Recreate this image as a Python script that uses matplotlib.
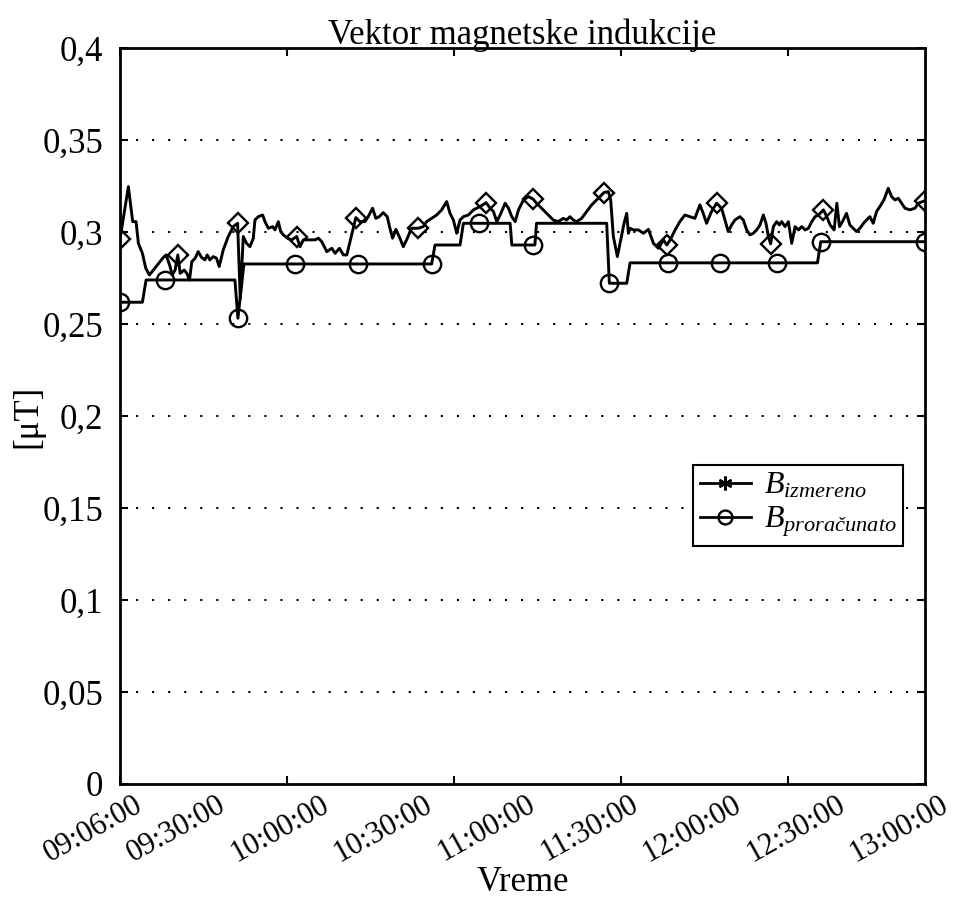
import numpy as np
import matplotlib
matplotlib.use("Agg")
import matplotlib.pyplot as plt
from matplotlib.lines import Line2D
from matplotlib import transforms

plt.rcParams['font.family'] = ['Liberation Serif', 'DejaVu Serif']
plt.rcParams['mathtext.fontset'] = 'custom'
plt.rcParams['mathtext.rm'] = 'Liberation Serif'
plt.rcParams['mathtext.it'] = 'Liberation Serif:italic'

# measured B (sample index, uT)
meas_x = [0, 2.5, 3.8, 4.8, 5.5, 6.7, 7.7, 8.8, 10.0, 11.2, 13.0, 13.8, 15.0, 15.6, 16.5,
          17.3, 18.0, 19.2, 20.0, 20.8, 21.5, 22.5, 23.4, 24.4, 25.4, 26.1, 26.9, 27.9,
          28.9, 29.7, 30.9, 32.4, 33.9, 35.2, 36.0, 36.9, 37.9, 38.9, 39.9, 40.4, 41.4,
          42.7, 43.4, 44.4, 45.7, 46.4, 47.4, 48.1, 48.9, 50.1, 51.4, 52.9, 53.9, 54.9,
          56.9, 58.4, 59.4, 60.4, 61.9, 63.4, 64.4, 65.7, 66.9, 67.9, 69.1, 70.6, 71.8,
          73.3, 74.3, 75.6, 76.6, 77.6, 78.8, 80.0, 80.8, 81.6, 82.6, 83.8, 84.8, 85.8,
          87.3, 89.3, 90.8, 91.8, 93.3, 94.8, 96.3, 97.8, 98.8, 99.8, 100.8, 101.8,
          102.8, 104.3, 105.8, 107.8, 109.6, 110.8, 111.8, 112.8, 113.8, 115.3, 116.3,
          117.3, 118.3, 119.3, 120.8, 122.3, 123.7, 124.7, 125.7, 127.2, 128.7, 129.7,
          131.2, 132.7, 133.7, 134.7, 135.7, 136.7, 138.2, 139.7, 141.2, 142.7, 143.7,
          144.9, 146.2, 146.9, 147.7, 148.9, 149.9, 150.9, 151.7, 152.2, 152.7, 153.7,
          155.2, 156.7, 158.2, 159.7, 161.2, 162.7, 163.7, 164.7, 166.2, 167.6, 169.1,
          170.6, 172.1, 173.6, 174.6, 175.6, 177.1, 178.6, 180.1, 181.1, 182.1, 183.1,
          184.1, 185.6, 186.6, 187.6, 188.6, 189.6, 190.6, 191.6, 192.6, 193.4, 194.1,
          194.8, 195.6, 196.6, 197.4, 198.1, 199.1, 200.1, 201.1, 202.1, 203.1, 204.1,
          205.1, 206.1, 207.1, 208.1, 209.1, 210.6, 211.6, 212.6, 213.8, 214.6, 215.4,
          216.3, 217.5, 218.5, 219.5, 220.5, 221.5, 223.0, 224.5, 225.5, 226.5, 227.5,
          228.7, 230.0, 231.0, 232.0, 233.0, 234.0, 235.0, 236.5, 238.0, 239.0, 241.0]
meas_y = [0.2962, 0.3246, 0.3056, 0.3056, 0.2938, 0.2884, 0.2803, 0.2766, 0.2793, 0.2821,
          0.2862, 0.2875, 0.2812, 0.2766, 0.2793, 0.2875, 0.2775, 0.2793, 0.2775, 0.2739,
          0.2839, 0.2857, 0.2893, 0.2862, 0.2848, 0.2875, 0.2848, 0.2866, 0.2857, 0.2812,
          0.2902, 0.2975, 0.3029, 0.3047, 0.2640, 0.2975, 0.2938, 0.2920, 0.2966, 0.3065,
          0.3083, 0.3092, 0.3056, 0.3020, 0.3029, 0.3011, 0.3056, 0.3002, 0.2984, 0.2966,
          0.2957, 0.2975, 0.2920, 0.2957, 0.2957, 0.2957, 0.2966, 0.2947, 0.2893, 0.2911,
          0.2884, 0.2911, 0.2875, 0.2875, 0.2966, 0.3078, 0.3056, 0.3056, 0.3083, 0.3129,
          0.3074, 0.3083, 0.3105, 0.3083, 0.3020, 0.2966, 0.3014, 0.2966, 0.2920, 0.2957,
          0.3020, 0.3020, 0.3029, 0.3056, 0.3074, 0.3092, 0.3120, 0.3165, 0.3101, 0.3065,
          0.2993, 0.3065, 0.3083, 0.3092, 0.3120, 0.3138, 0.3159, 0.3129, 0.3111, 0.3056,
          0.3092, 0.3156, 0.3129, 0.3083, 0.3056, 0.3120, 0.3174, 0.3192, 0.3178, 0.3156,
          0.3138, 0.3111, 0.3083, 0.3065, 0.3056, 0.3074, 0.3065, 0.3083, 0.3065, 0.3056,
          0.3074, 0.3111, 0.3147, 0.3174, 0.3192, 0.3214, 0.3219, 0.3174, 0.2975, 0.2866,
          0.2957, 0.3047, 0.3101, 0.2993, 0.3020, 0.3011, 0.3011, 0.2993, 0.3014, 0.2938,
          0.2911, 0.2957, 0.2929, 0.2957, 0.3011, 0.3056, 0.3092, 0.3083, 0.3074, 0.3147,
          0.3101, 0.3047, 0.3111, 0.3156, 0.3129, 0.3065, 0.3002, 0.3038, 0.3065, 0.3083,
          0.3065, 0.3011, 0.2984, 0.2993, 0.3011, 0.3038, 0.3092, 0.3047, 0.2975, 0.2935,
          0.3029, 0.3056, 0.3038, 0.3056, 0.3029, 0.3056, 0.2938, 0.3029, 0.3011, 0.3029,
          0.3011, 0.3020, 0.3056, 0.3083, 0.3092, 0.3120, 0.3083, 0.3038, 0.3011, 0.3156,
          0.3029, 0.3056, 0.3101, 0.3038, 0.3020, 0.3002, 0.3020, 0.3056, 0.3083, 0.3047,
          0.3111, 0.3138, 0.3174, 0.3237, 0.3192, 0.3174, 0.3183, 0.3156, 0.3129, 0.3120,
          0.3129, 0.3156, 0.3170]
# samples that carry a diamond marker
meas_marks = [0, 17.3, 35.2, 52.9, 70.6, 89.3, 109.6, 123.7, 144.9, 163.7, 178.6,
              194.8, 210.6, 241.0]

# calculated B (step curve)
calc_x = [0, 6.7, 7.8, 34.4, 35.3, 37.1, 93.3, 94.3, 101.8, 102.8, 116.8, 117.3, 124.2,
          124.7, 145.7, 146.5, 151.7, 152.7, 208.8, 209.8, 241.0]
calc_y = [0.2618, 0.2618, 0.2739, 0.2739, 0.2531, 0.2826, 0.2826, 0.2929, 0.2929, 0.3047,
          0.3047, 0.2929, 0.2929, 0.3047, 0.3047, 0.2721, 0.2721, 0.2832, 0.2832, 0.2947,
          0.2947]
calc_mark_x = [0, 13.5, 35.3, 52.4, 71.3, 93.3, 107.5, 123.6, 146.5, 164.1, 179.6, 196.7,
               209.8, 241.0]
calc_mark_y = [0.2618, 0.2739, 0.2531, 0.2826, 0.2826, 0.2826, 0.3047, 0.2929, 0.2721,
               0.2832, 0.2832, 0.2832, 0.2947, 0.2947]

n_last = 241
time_labels = ['09:06:00', '09:30:00', '10:00:00', '10:30:00', '11:00:00',
               '11:30:00', '12:00:00', '12:30:00', '13:00:00']
time_minutes = [0, 24, 54, 84, 114, 144, 174, 204, 234]
yticks = [0, 0.05, 0.1, 0.15, 0.2, 0.25, 0.3, 0.35, 0.4]
ytick_labels = ['0', '0,05', '0,1', '0,15', '0,2', '0,25', '0,3', '0,35', '0,4']

fig = plt.figure(figsize=(9.54, 9.01), dpi=100)
ax = fig.add_axes([0.1258, 0.1299, 0.8438, 0.8169])

mark_idx = [meas_x.index(v) for v in meas_marks]
ax.plot(meas_x, meas_y, color='k', lw=2.1, marker='D', ms=10, mfc='none', mew=1.7,
        markevery=mark_idx)
ax.plot(calc_x, calc_y, color='k', lw=2.1)
ax.plot(calc_mark_x, calc_mark_y, ls='none', marker='o', ms=12.5, mfc='none', mec='k', mew=1.7)

for yv in yticks[1:-1]:
    ax.axhline(yv, color='k', lw=1.5, ls=(0, (1, 6.7)), zorder=0)

ax.set_xlim(0, n_last)
ax.set_ylim(0, 0.4)
ax.set_xticks([0, 50, 100, 150, 200])
ax.set_xticklabels([])
ax.set_yticks(yticks)
ax.set_yticklabels(ytick_labels)
ax.tick_params(direction='in', length=6, width=1.5, top=True, right=True,
               labelsize=25, pad=12)
for s in ax.spines.values():
    s.set_linewidth(2)

# rotated time labels
trans = transforms.blended_transform_factory(ax.transData, ax.transAxes) + \
    transforms.ScaledTranslation(14 / 100, -6 / 100, fig.dpi_scale_trans)
for lab, m in zip(time_labels, time_minutes):
    ax.text(m * n_last / time_minutes[-1], 0, lab, transform=trans, rotation=29,
            ha='right', va='top', rotation_mode='anchor', fontsize=22)

ax.set_title('Vektor magnetske indukcije', fontsize=25, pad=3)
ax.set_xlabel('Vreme', fontsize=25)
ax.xaxis.set_label_coords(0.5, -0.112)
ax.set_ylabel('[μT]', fontsize=25)
ax.yaxis.set_label_coords(-0.094, 0.5)

handles = [Line2D([], [], color='k', lw=2, marker=(6, 2, 0), ms=10, mew=1.7),
           Line2D([], [], color='k', lw=2, marker='o', ms=10, mfc='none', mew=1.7)]
leg = ax.legend(handles, [r'$B_{izmereno}$', r'$B_{\mathit{proračunato}}$'],
                loc='upper right', bbox_to_anchor=(0.9727, 0.4334), fontsize=23,
                fancybox=False, framealpha=1, edgecolor='k', borderpad=0.2,
                labelspacing=0.12, handlelength=1.6, handletextpad=0.4,
                borderaxespad=0)
leg.get_frame().set_linewidth(1.5)

fig.savefig('out.png', dpi=100)
